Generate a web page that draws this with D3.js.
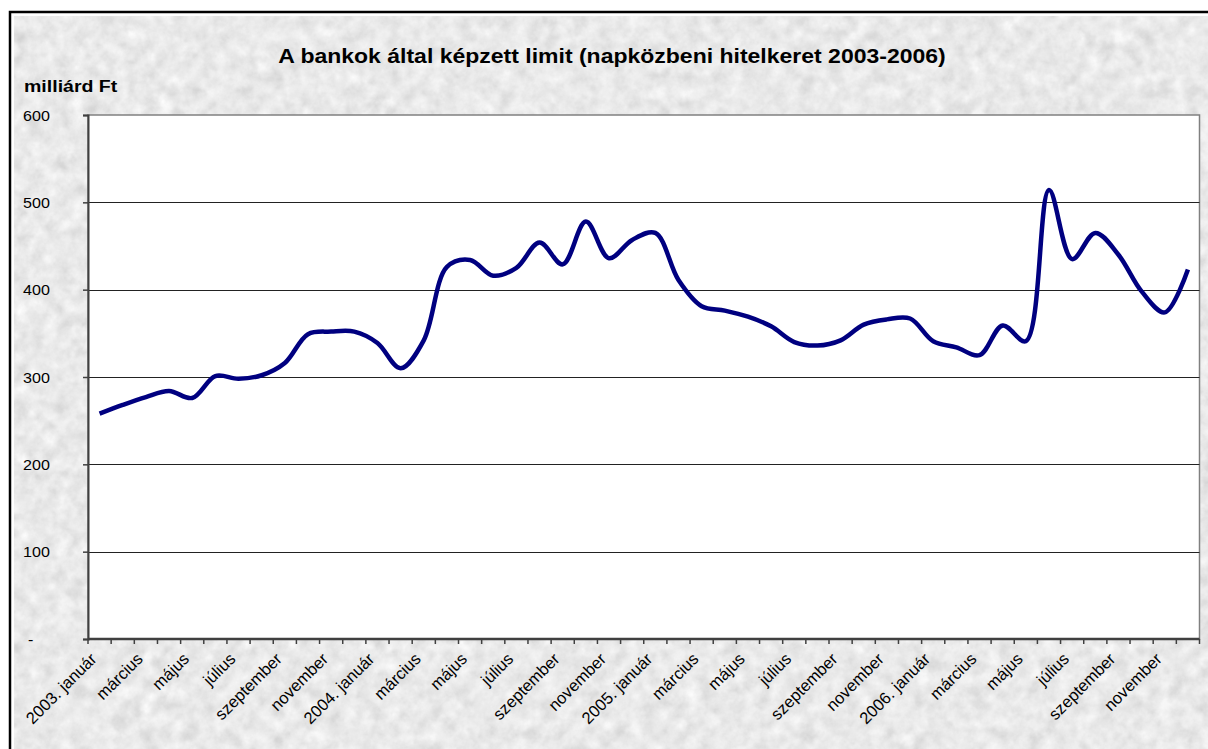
<!DOCTYPE html>
<html>
<head>
<meta charset="utf-8">
<script src="https://cdn.jsdelivr.net/npm/d3@7"></script>
<style>
  html, body { margin: 0; padding: 0; background: #fff; }
  svg { display: block; font-family: "Liberation Sans", Arial, sans-serif; }
</style>
</head>
<body>
<svg id="chart" width="1208" height="749"></svg>
<script>
// Months of 2003-2006 (one point per month)
const years = [2003, 2004, 2005, 2006];
const monthNames = ["január", "február", "március", "április", "május", "június",
                    "július", "augusztus", "szeptember", "október", "november", "december"];

// Intraday credit limit formed by the banks, billion HUF
const limitValues = [
  258, 268, 277, 284, 276, 301, 298, 302, 316, 349, 352, 352,
  339, 310, 342, 426, 434, 416, 425, 454, 429, 478, 436, 457,
  465, 411, 381, 376, 369, 358, 340, 336, 342, 360, 366, 367,
  341, 334, 325, 359, 341, 514, 435, 465, 440, 398, 374, 423
];

const yTicks = [0, 100, 200, 300, 400, 500, 600];
const titleText = "A bankok által képzett limit (napközbeni hitelkeret 2003-2006)";
const unitText = "milliárd Ft";

const categories = [];
years.forEach(y => monthNames.forEach((m, i) => categories.push(i === 0 ? y + ". " + m : m)));

const svg = d3.select("#chart");
const W = 1208, H = 749;
const SX = 1.15; // horizontal widening of the horizontal captions

// Granite-like textured background
const defs = svg.append("defs");
const f = defs.append("filter").attr("id", "granite")
  .attr("x", 0).attr("y", 0).attr("width", "100%").attr("height", "100%");
f.append("feTurbulence").attr("type", "fractalNoise").attr("baseFrequency", 0.07)
  .attr("numOctaves", 4).attr("seed", 7).attr("result", "noise");
f.append("feColorMatrix").attr("in", "noise").attr("type", "matrix")
  .attr("values", "0.33 0.33 0.33 0 0  0.33 0.33 0.33 0 0  0.33 0.33 0.33 0 0  0 0 0 0 1")
  .attr("result", "gray");
f.append("feComponentTransfer").attr("in", "gray")
  .call(ct => {
    ["feFuncR", "feFuncG", "feFuncB"].forEach(fn =>
      ct.append(fn).attr("type", "linear").attr("slope", 0.6).attr("intercept", 0.52));
  });

svg.append("rect").attr("width", W).attr("height", H).attr("fill", "#fff");
svg.append("rect").attr("x", 14).attr("y", 16).attr("width", W - 14).attr("height", H - 16)
  .attr("fill", "#d4d4d4").attr("filter", "url(#granite)");
// outer frame
svg.append("path").attr("d", `M10,${H} V12 H${W}`)
  .attr("fill", "none").attr("stroke", "#000").attr("stroke-width", 2.5);

const plot = { left: 88, right: 1199.5, top: 115, bottom: 639 };

const x = d3.scaleBand().domain(d3.range(categories.length))
  .range([plot.left, plot.right]).paddingInner(0).paddingOuter(0);
const y = d3.scaleLinear().domain([0, 600]).range([plot.bottom, plot.top]);

// plot area
svg.append("rect").attr("x", plot.left).attr("y", plot.top)
  .attr("width", plot.right - plot.left).attr("height", plot.bottom - plot.top)
  .attr("fill", "#fff").attr("stroke", "#808080").attr("stroke-width", 1.5);

// gridlines
svg.append("g").selectAll("line").data(yTicks.filter(v => v > 0 && v < 600)).join("line")
  .attr("x1", plot.left).attr("x2", plot.right)
  .attr("y1", d => Math.round(y(d)) + 0.5).attr("y2", d => Math.round(y(d)) + 0.5)
  .attr("stroke", "#222").attr("stroke-width", 1);

// y axis
const yAxis = svg.append("g").attr("transform", `translate(${plot.left},0)`)
  .call(d3.axisLeft(y).tickValues(yTicks).tickSize(5).tickPadding(0)
    .tickFormat(d => d === 0 ? "-" : d3.format("d")(d)));
yAxis.select(".domain").attr("stroke", "#404040").attr("stroke-width", 2);
yAxis.selectAll(".tick line").attr("stroke", "#404040").attr("stroke-width", 1.5);
yAxis.selectAll(".tick text")
  .attr("x", null).attr("dy", null)
  .attr("text-anchor", "start")
  .attr("dominant-baseline", "central")
  .attr("transform", d => `translate(${d === 0 ? -60 : -65},0) scale(${SX},1)`)
  .attr("font-size", 14).attr("fill", "#000")
  .attr("font-family", "Liberation Sans, Arial, sans-serif");

// x axis: ticks at category boundaries
const xAxisG = svg.append("g");
xAxisG.append("line").attr("x1", plot.left).attr("x2", plot.right)
  .attr("y1", plot.bottom).attr("y2", plot.bottom)
  .attr("stroke", "#404040").attr("stroke-width", 2.5);
xAxisG.selectAll("line.tk").data(d3.range(categories.length + 1)).join("line")
  .attr("class", "tk")
  .attr("x1", i => i < categories.length ? x(i) : plot.right)
  .attr("x2", i => i < categories.length ? x(i) : plot.right)
  .attr("y1", plot.bottom).attr("y2", plot.bottom + 5)
  .attr("stroke", "#404040").attr("stroke-width", 1.5);

xAxisG.selectAll("text").data(d3.range(0, categories.length, 2)).join("text")
  .attr("transform", i => `translate(${x(i) + x.bandwidth() / 2 - 2},${plot.bottom + 21}) rotate(-45)`)
  .attr("text-anchor", "end")
  .attr("font-size", 16.5).attr("fill", "#000")
  .text(i => categories[i]);

// series line
const line = d3.line()
  .x((d, i) => x(i) + x.bandwidth() / 2)
  .y(d => y(d))
  .curve(d3.curveCatmullRom.alpha(0.5));
svg.append("path").datum(limitValues)
  .attr("d", line)
  .attr("fill", "none").attr("stroke", "#000080").attr("stroke-width", 4.5)
  .attr("stroke-linejoin", "round").attr("stroke-linecap", "butt");

// titles
svg.append("text").attr("transform", `translate(612,63) scale(${SX},1)`)
  .attr("text-anchor", "middle")
  .attr("font-size", 20).attr("font-weight", "bold").text(titleText);
svg.append("text").attr("transform", `translate(24,92) scale(${SX},1)`)
  .attr("font-size", 17).attr("font-weight", "bold").text(unitText);
</script>
</body>
</html>
